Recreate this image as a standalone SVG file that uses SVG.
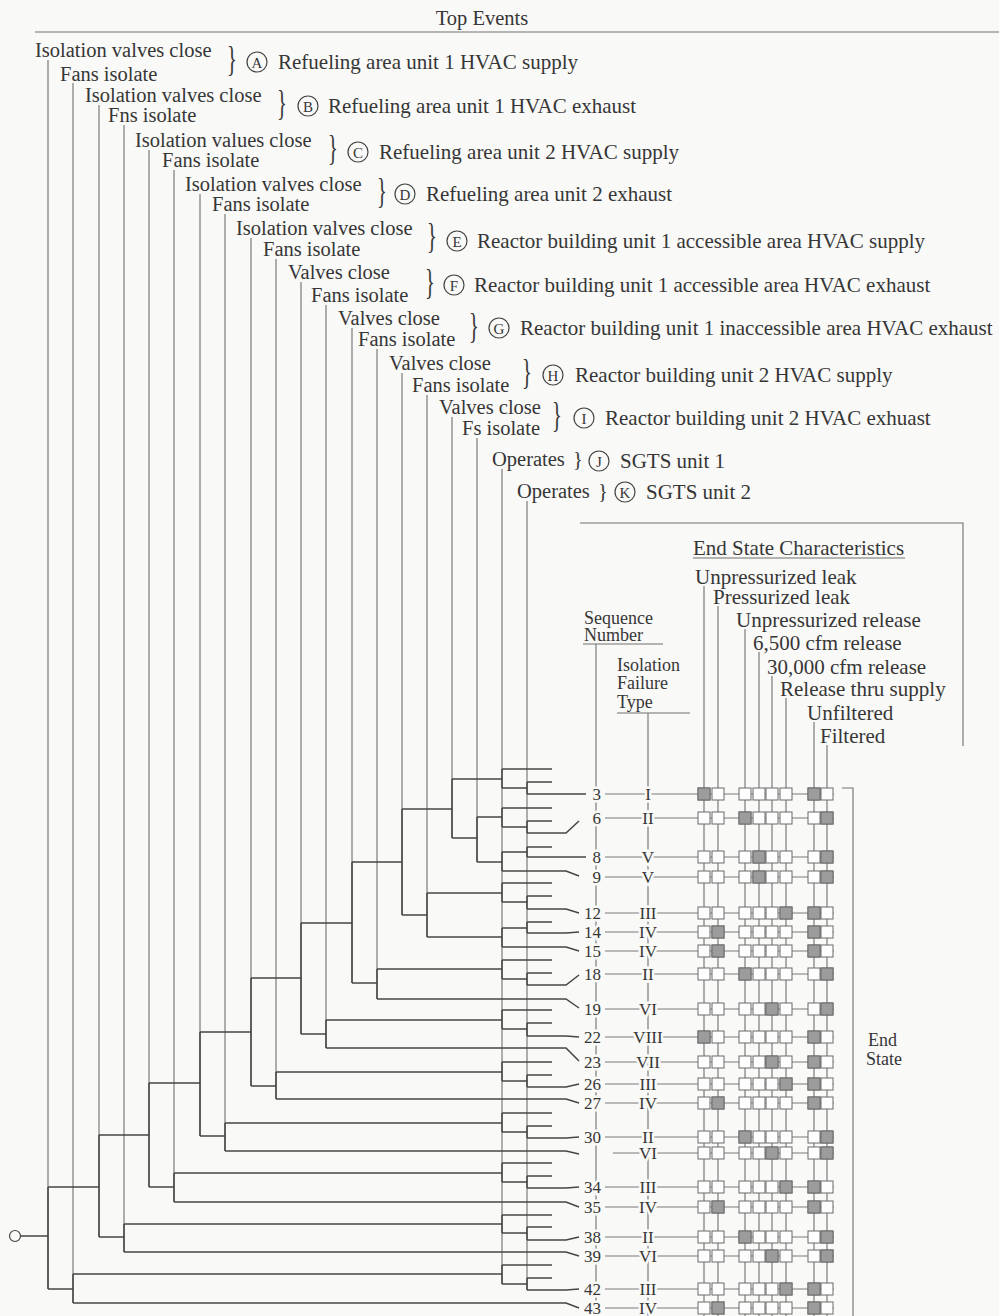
<svg xmlns="http://www.w3.org/2000/svg" xmlns:xlink="http://www.w3.org/1999/xlink" width="999" height="1316" viewBox="0 0 999 1316">
<style>
.t{font-family:"Liberation Serif","Times New Roman",serif;font-size:20.5px;fill:#363636}
.s{font-family:"Liberation Serif","Times New Roman",serif;font-size:18px;fill:#363636}
.d{font-family:"Liberation Serif","Times New Roman",serif;font-size:21px;fill:#363636}
.c{font-family:"Liberation Serif","Times New Roman",serif;font-size:15px;fill:#363636;text-anchor:middle}
.n{font-family:"Liberation Serif","Times New Roman",serif;font-size:17px;fill:#363636;paint-order:stroke;stroke:#f9f9f7;stroke-width:5px}
.nm{text-anchor:middle}
.ne{text-anchor:end}
.col{stroke:#707070;stroke-width:1.1;fill:none}
.br{stroke:#454545;stroke-width:1.5;fill:none}
.rw{stroke:#7a7a7a;stroke-width:1.1;fill:none}
.ci{fill:none;stroke:#444;stroke-width:1.2}
.bx{fill:#fdfdfd;stroke:#6a6a6a;stroke-width:1}
.sh{fill:#9c9c9c;stroke:#6a6a6a;stroke-width:1}
</style>
<defs>
<g id="boxrow">
<rect class="bx" x="698" y="-6" width="12" height="12"/>
<rect class="bx" x="712" y="-6" width="12" height="12"/>
<rect class="bx" x="739" y="-6" width="12" height="12"/>
<rect class="bx" x="753" y="-6" width="12" height="12"/>
<rect class="bx" x="766" y="-6" width="12" height="12"/>
<rect class="bx" x="780" y="-6" width="12" height="12"/>
<rect class="bx" x="808" y="-6" width="12" height="12"/>
<rect class="bx" x="821" y="-6" width="12" height="12"/>
</g>
<rect id="sb" class="sh" x="0" y="-6" width="12" height="12"/>
</defs>
<rect x="0" y="0" width="999" height="1316" fill="#f9f9f7"/>

<g id="header">
<text class="t" x="482" y="25" text-anchor="middle">Top Events</text>
<path class="col" d="M35,32H999"/>
</g>

<g id="event-columns">
<path class="col" d="M48,60V1289 M73,83V1303 M99,105V1237 M124,125V1252 M149,150V1187 M174,170V1202 M200,194V1136 M225,214V1151 M251,238V1086 M276,259V1099 M301,282V1034 M326,305V1048 M352,328V983 M377,349V999 M402,373V915 M427,395V937 M452,417V838 M477,438V862 M502,469V1284 M527,501V1290"/>
</g>

<g id="event-A">
<text class="t" x="35" y="57">Isolation valves close</text>
<text class="t" x="60" y="81">Fans isolate</text>
<text class="t" transform="translate(232,71) scale(1,1.7)" text-anchor="middle">}</text>
<circle class="ci" cx="257" cy="62" r="10"/><text class="c" x="257" y="67.5">A</text>
<text class="d" x="278" y="69">Refueling area unit 1 HVAC supply</text>
</g>
<g id="event-B">
<text class="t" x="85" y="102">Isolation valves close</text>
<text class="t" x="108" y="122">Fns isolate</text>
<text class="t" transform="translate(282,115) scale(1,1.7)" text-anchor="middle">}</text>
<circle class="ci" cx="308" cy="106" r="10"/><text class="c" x="308" y="111.5">B</text>
<text class="d" x="328" y="113">Refueling area unit 1 HVAC exhaust</text>
</g>
<g id="event-C">
<text class="t" x="135" y="147">Isolation values close</text>
<text class="t" x="162" y="167">Fans isolate</text>
<text class="t" transform="translate(333,160) scale(1,1.7)" text-anchor="middle">}</text>
<circle class="ci" cx="358" cy="152" r="10"/><text class="c" x="358" y="157.5">C</text>
<text class="d" x="379" y="159">Refueling area unit 2 HVAC supply</text>
</g>
<g id="event-D">
<text class="t" x="185" y="191">Isolation valves close</text>
<text class="t" x="212" y="211">Fans isolate</text>
<text class="t" transform="translate(382,203) scale(1,1.7)" text-anchor="middle">}</text>
<circle class="ci" cx="405" cy="194" r="10"/><text class="c" x="405" y="199.5">D</text>
<text class="d" x="426" y="201">Refueling area unit 2 exhaust</text>
</g>
<g id="event-E">
<text class="t" x="236" y="235">Isolation valves close</text>
<text class="t" x="263" y="256">Fans isolate</text>
<text class="t" transform="translate(432,248) scale(1,1.7)" text-anchor="middle">}</text>
<circle class="ci" cx="457" cy="241" r="10"/><text class="c" x="457" y="246.5">E</text>
<text class="d" x="477" y="248">Reactor building unit 1 accessible area HVAC supply</text>
</g>
<g id="event-F">
<text class="t" x="288" y="279">Valves close</text>
<text class="t" x="311" y="302">Fans isolate</text>
<text class="t" transform="translate(430,294) scale(1,1.7)" text-anchor="middle">}</text>
<circle class="ci" cx="454" cy="285" r="10"/><text class="c" x="454" y="290.5">F</text>
<text class="d" x="474" y="292">Reactor building unit 1 accessible area HVAC exhaust</text>
</g>
<g id="event-G">
<text class="t" x="338" y="325">Valves close</text>
<text class="t" x="358" y="346">Fans isolate</text>
<text class="t" transform="translate(474,338) scale(1,1.7)" text-anchor="middle">}</text>
<circle class="ci" cx="499" cy="328" r="10"/><text class="c" x="499" y="333.5">G</text>
<text class="d" x="520" y="335">Reactor building unit 1 inaccessible area HVAC exhaust</text>
</g>
<g id="event-H">
<text class="t" x="389" y="370">Valves close</text>
<text class="t" x="412" y="392">Fans isolate</text>
<text class="t" transform="translate(527,384) scale(1,1.7)" text-anchor="middle">}</text>
<circle class="ci" cx="553" cy="375" r="10"/><text class="c" x="553" y="380.5">H</text>
<text class="d" x="575" y="382">Reactor building unit 2 HVAC supply</text>
</g>
<g id="event-I">
<text class="t" x="439" y="414">Valves close</text>
<text class="t" x="462" y="435">Fs isolate</text>
<text class="t" transform="translate(557,427) scale(1,1.7)" text-anchor="middle">}</text>
<circle class="ci" cx="584" cy="418" r="10"/><text class="c" x="584" y="423.5">I</text>
<text class="d" x="605" y="425">Reactor building unit 2 HVAC exhuast</text>
</g>
<g id="event-J">
<text class="t" x="492" y="466">Operates</text>
<text class="t" x="578" y="466" text-anchor="middle">}</text>
<circle class="ci" cx="599" cy="461" r="10"/><text class="c" x="599" y="466.5">J</text>
<text class="d" x="620" y="468">SGTS unit 1</text>
</g>
<g id="event-K">
<text class="t" x="517" y="498">Operates</text>
<text class="t" x="603" y="498" text-anchor="middle">}</text>
<circle class="ci" cx="625" cy="492" r="10"/><text class="c" x="625" y="497.5">K</text>
<text class="d" x="646" y="499">SGTS unit 2</text>
</g>

<g id="end-state-header">
<path class="col" d="M580,523H963V746"/>
<text class="d" x="693" y="555">End State Characteristics</text>
<path class="col" d="M693,558H905"/>
<text class="d" x="695" y="584">Unpressurized leak</text>
<text class="d" x="713" y="604">Pressurized leak</text>
<text class="d" x="736" y="627">Unpressurized release</text>
<text class="d" x="753" y="650">6,500 cfm release</text>
<text class="d" x="767" y="674">30,000 cfm release</text>
<text class="d" x="780" y="696">Release thru supply</text>
<text class="d" x="807" y="720">Unfiltered</text>
<text class="d" x="820" y="743">Filtered</text>
<text class="s" x="584" y="624">Sequence</text>
<text class="s" x="584" y="641">Number</text>
<path class="col" d="M583,644H663"/>
<text class="s" x="617" y="671">Isolation</text>
<text class="s" x="617" y="689">Failure</text>
<text class="s" x="617" y="708">Type</text>
<path class="col" d="M617,713H690"/>
<path class="col" d="M596,644V1316 M648,713V1316 M704,586V1316 M718,606V1316 M745,629V1316 M759,652V1316 M772,676V1316 M786,698V1316 M814,722V1316 M827,745V1316"/>
<path class="col" d="M842,788H853V1316"/>
<text class="s" x="868" y="1046">End</text>
<text class="s" x="866" y="1065">State</text>
</g>

<g id="connectors">
<circle class="ci" cx="15" cy="1236" r="5.5"/>
<path class="br" d="M20.5,1236H48
M48,1187V1289 M48,1187H99 M48,1289H73
M73,1274V1303 M73,1274H502 M73,1303H566L579,1308
M99,1135V1237 M99,1135H149 M99,1237H124
M124,1224V1252 M124,1224H502 M124,1252H566L579,1256
M149,1083V1187 M149,1083H200 M149,1187H174
M174,1173V1202 M174,1173H502 M174,1202H566L579,1207
M200,1032V1136 M200,1032H251 M200,1136H225
M225,1123V1151 M225,1123H502 M225,1151H566L579,1154
M251,978V1086 M251,978H301 M251,1086H276
M276,1072V1099 M276,1072H502 M276,1099H566L579,1103
M301,923V1034 M301,923H352 M301,1034H326
M326,1020V1048 M326,1020H502 M326,1048H566L579,1061
M352,862V983 M352,862H402 M352,983H377
M377,969V999 M377,969H502 M377,999H566L579,1008
M402,809V915 M402,809H452 M402,915H427
M427,893V937 M427,893H502 M427,937H502
M452,779V838 M452,779H502 M452,838H477
M477,817V862 M477,817H502 M477,862H502"/>
<path class="br" d="M502,769V788 M502,769H552 M502,788H527 M527,782V794 M527,782H552 M527,794H586
M502,808V827 M502,808H552 M502,827H527 M527,821V833 M527,821H552 M527,833H566L579,821
M502,852V871 M502,852H527 M527,847V857 M527,847H552 M527,857H586 M502,871H566L579,876
M502,883V902 M502,883H552 M502,902H527 M527,896V909 M527,896H552 M527,909H566L579,913
M502,928V947 M502,928H527 M527,922V933 M527,922H552 M527,933H566L579,932 M502,947H566L579,951
M502,960V979 M502,960H552 M502,979H527 M527,973V985 M527,973H552 M527,985H566L579,975
M502,1010V1029 M502,1010H552 M502,1029H527 M527,1023V1036 M527,1023H552 M527,1036H566L579,1037
M502,1062V1081 M502,1062H552 M502,1081H527 M527,1075V1087 M527,1075H552 M527,1087H566L579,1084
M502,1113V1132 M502,1113H552 M502,1132H527 M527,1126V1138 M527,1126H552 M527,1138H566L579,1137
M502,1163V1182 M502,1163H552 M502,1182H527 M527,1176V1188 M527,1176H552 M527,1188H566L579,1187
M502,1215V1233 M502,1215H552 M502,1233H527 M527,1227V1240 M527,1227H552 M527,1240H566L579,1237
M502,1265V1284 M502,1265H552 M502,1284H527 M527,1278V1290 M527,1278H552 M527,1290H566L579,1289"/>
<path class="rw" d="M605,794H834 M605,818H834 M605,857H834 M605,877H834 M605,913H834 M605,932H834 M605,951H834 M605,974H834 M605,1009H834 M605,1037H834 M605,1062H834 M605,1084H834 M605,1103H834 M605,1137H834 M613,1153H834 M605,1187H834 M605,1207H834 M605,1237H834 M605,1256H834 M605,1289H834 M605,1308H834"/>
</g>

<g id="seq-3"><text class="n ne" x="601" y="800">3</text><text class="n nm" x="648" y="800">I</text><use xlink:href="#boxrow" y="794"/><use xlink:href="#sb" x="698" y="794"/><use xlink:href="#sb" x="808" y="794"/></g>
<g id="seq-6"><text class="n ne" x="601" y="824">6</text><text class="n nm" x="648" y="824">II</text><use xlink:href="#boxrow" y="818"/><use xlink:href="#sb" x="739" y="818"/><use xlink:href="#sb" x="821" y="818"/></g>
<g id="seq-8"><text class="n ne" x="601" y="863">8</text><text class="n nm" x="648" y="863">V</text><use xlink:href="#boxrow" y="857"/><use xlink:href="#sb" x="753" y="857"/><use xlink:href="#sb" x="821" y="857"/></g>
<g id="seq-9"><text class="n ne" x="601" y="883">9</text><text class="n nm" x="648" y="883">V</text><use xlink:href="#boxrow" y="877"/><use xlink:href="#sb" x="753" y="877"/><use xlink:href="#sb" x="821" y="877"/></g>
<g id="seq-12"><text class="n ne" x="601" y="919">12</text><text class="n nm" x="648" y="919">III</text><use xlink:href="#boxrow" y="913"/><use xlink:href="#sb" x="780" y="913"/><use xlink:href="#sb" x="808" y="913"/></g>
<g id="seq-14"><text class="n ne" x="601" y="938">14</text><text class="n nm" x="648" y="938">IV</text><use xlink:href="#boxrow" y="932"/><use xlink:href="#sb" x="712" y="932"/><use xlink:href="#sb" x="808" y="932"/></g>
<g id="seq-15"><text class="n ne" x="601" y="957">15</text><text class="n nm" x="648" y="957">IV</text><use xlink:href="#boxrow" y="951"/><use xlink:href="#sb" x="712" y="951"/><use xlink:href="#sb" x="808" y="951"/></g>
<g id="seq-18"><text class="n ne" x="601" y="980">18</text><text class="n nm" x="648" y="980">II</text><use xlink:href="#boxrow" y="974"/><use xlink:href="#sb" x="739" y="974"/><use xlink:href="#sb" x="821" y="974"/></g>
<g id="seq-19"><text class="n ne" x="601" y="1015">19</text><text class="n nm" x="648" y="1015">VI</text><use xlink:href="#boxrow" y="1009"/><use xlink:href="#sb" x="766" y="1009"/><use xlink:href="#sb" x="821" y="1009"/></g>
<g id="seq-22"><text class="n ne" x="601" y="1043">22</text><text class="n nm" x="648" y="1043">VIII</text><use xlink:href="#boxrow" y="1037"/><use xlink:href="#sb" x="698" y="1037"/><use xlink:href="#sb" x="808" y="1037"/></g>
<g id="seq-23"><text class="n ne" x="601" y="1068">23</text><text class="n nm" x="648" y="1068">VII</text><use xlink:href="#boxrow" y="1062"/><use xlink:href="#sb" x="766" y="1062"/><use xlink:href="#sb" x="808" y="1062"/></g>
<g id="seq-26"><text class="n ne" x="601" y="1090">26</text><text class="n nm" x="648" y="1090">III</text><use xlink:href="#boxrow" y="1084"/><use xlink:href="#sb" x="780" y="1084"/><use xlink:href="#sb" x="808" y="1084"/></g>
<g id="seq-27"><text class="n ne" x="601" y="1109">27</text><text class="n nm" x="648" y="1109">IV</text><use xlink:href="#boxrow" y="1103"/><use xlink:href="#sb" x="712" y="1103"/><use xlink:href="#sb" x="808" y="1103"/></g>
<g id="seq-30"><text class="n ne" x="601" y="1142.5">30</text><text class="n nm" x="648" y="1142.5">II</text><use xlink:href="#boxrow" y="1137"/><use xlink:href="#sb" x="739" y="1137"/><use xlink:href="#sb" x="821" y="1137"/></g>
<g id="seq-31"><text class="n nm" x="648" y="1159">VI</text><use xlink:href="#boxrow" y="1153"/><use xlink:href="#sb" x="766" y="1153"/><use xlink:href="#sb" x="821" y="1153"/></g>
<g id="seq-34"><text class="n ne" x="601" y="1193">34</text><text class="n nm" x="648" y="1193">III</text><use xlink:href="#boxrow" y="1187"/><use xlink:href="#sb" x="780" y="1187"/><use xlink:href="#sb" x="808" y="1187"/></g>
<g id="seq-35"><text class="n ne" x="601" y="1213">35</text><text class="n nm" x="648" y="1213">IV</text><use xlink:href="#boxrow" y="1207"/><use xlink:href="#sb" x="712" y="1207"/><use xlink:href="#sb" x="808" y="1207"/></g>
<g id="seq-38"><text class="n ne" x="601" y="1243">38</text><text class="n nm" x="648" y="1243">II</text><use xlink:href="#boxrow" y="1237"/><use xlink:href="#sb" x="739" y="1237"/><use xlink:href="#sb" x="821" y="1237"/></g>
<g id="seq-39"><text class="n ne" x="601" y="1262">39</text><text class="n nm" x="648" y="1262">VI</text><use xlink:href="#boxrow" y="1256"/><use xlink:href="#sb" x="766" y="1256"/><use xlink:href="#sb" x="821" y="1256"/></g>
<g id="seq-42"><text class="n ne" x="601" y="1295">42</text><text class="n nm" x="648" y="1295">III</text><use xlink:href="#boxrow" y="1289"/><use xlink:href="#sb" x="780" y="1289"/><use xlink:href="#sb" x="808" y="1289"/></g>
<g id="seq-43"><text class="n ne" x="601" y="1314">43</text><text class="n nm" x="648" y="1314">IV</text><use xlink:href="#boxrow" y="1308"/><use xlink:href="#sb" x="712" y="1308"/><use xlink:href="#sb" x="808" y="1308"/></g>
</svg>
